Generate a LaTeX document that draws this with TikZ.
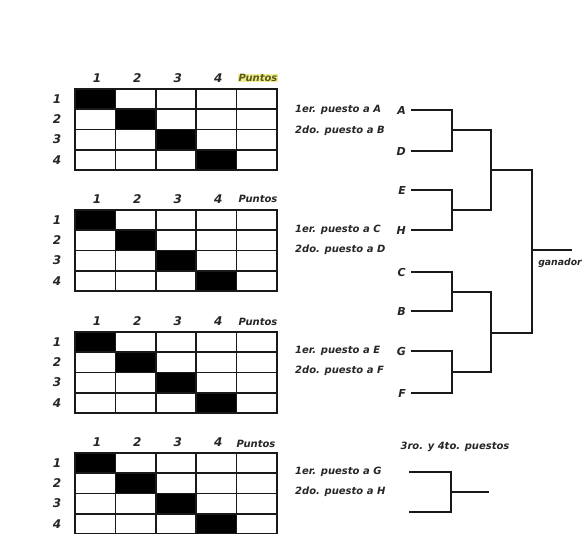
\documentclass[tikz,border=0pt]{standalone}
\usepackage{fontspec}
\setsansfont{DejaVu Sans}
\begin{document}
\begin{tikzpicture}[x=1pt,y=-1pt,
  lbl/.style={font=\sffamily\bfseries\itshape\fontsize{10}{12}\selectfont, inner sep=0pt, text=black!85},
  num/.style={font=\sffamily\bfseries\itshape\fontsize{12}{14}\selectfont, inner sep=0pt, text=black!85},
  gridline/.style={line width=1.6pt, black!90},
  brk/.style={line width=1.5pt, black!90, line join=miter}
]
\useasboundingbox (0,0) rectangle (586,533);
\fill[white] (0,0) rectangle (586,533);

% ---------- four tables ----------
\foreach \t [count=\g] in {89,210,332,453}{
  \foreach \i in {0,1,2,3}{
    \fill[black] ({75+40.4*\i},{\t+20.25*\i}) rectangle ++(40.4,20.25);
  }
  \foreach \k in {1,2,3,4}{
    \draw[gridline] ({75+40.4*\k},\t) -- ++(0,81);
    \draw[gridline] (75,{\t+20.25*\k}) -- ++(202,0);
  }
  \draw[gridline] (75,\t) rectangle ++(202,81);
  \foreach \k in {1,2,3,4}{
    \node[num] (h\g\k) at ({75+40.4*(\k-1)+22},{\t-11}) {\k};
    \node[num] (r\g\k) at (57,{\t+10+20.25*(\k-1)}) {\k};
  }
}
\node[lbl, fill={rgb,255:red,238;green,238;blue,150}, text={rgb,255:red,90;green,90;blue,20}, inner sep=0.6pt] (p1) at (258,78) {Puntos};
\node[lbl] (p2) at (258,199) {Puntos};
\node[lbl] (p3) at (258,322) {Puntos};
\node[lbl] (p4) at (256,444) {Puntos};

% ---------- placement notes ----------
\node[lbl, anchor=west] (n1a) at (295,110) {1er. puesto a A};
\node[lbl, anchor=west] (n1b) at (295,131) {2do. puesto a B};
\node[lbl, anchor=west] (n2a) at (295,230) {1er. puesto a C};
\node[lbl, anchor=west] (n2b) at (295,250) {2do. puesto a D};
\node[lbl, anchor=west] (n3a) at (295,351) {1er. puesto a E};
\node[lbl, anchor=west] (n3b) at (295,371) {2do. puesto a F};
\node[lbl, anchor=west] (n4a) at (295,472) {1er. puesto a G};
\node[lbl, anchor=west] (n4b) at (295,492) {2do. puesto a H};

% ---------- bracket ----------
\foreach \n/\y in {A/110,D/151,E/190,H/230,C/272,B/311,G/351,F/393}{
  \node[lbl, font=\sffamily\bfseries\itshape\fontsize{11}{12}\selectfont, anchor=east] (\n) at (406,\y) {\n};
}
\coordinate (jAD) at (452,130);
\coordinate (jEH) at (452,210);
\coordinate (jCB) at (452,292);
\coordinate (jGF) at (452,372);
\coordinate (q1) at (491,170);
\coordinate (q2) at (491,333);
\coordinate (fin) at (532,250);
\coordinate (win) at (572,250);

\foreach \n/\j in {A/jAD,D/jAD,E/jEH,H/jEH,C/jCB,B/jCB,G/jGF,F/jGF}{
  \draw[brk] ([xshift=5pt]\n.east) -| (\j);
}
\draw[brk] (jAD) -| (q1);
\draw[brk] (jEH) -| (q1);
\draw[brk] (jCB) -| (q2);
\draw[brk] (jGF) -| (q2);
\draw[brk] (q1) -| (fin);
\draw[brk] (q2) -| (fin);
\draw[brk] (fin) -- (win);
\node[lbl, font=\sffamily\bfseries\itshape\fontsize{9.3}{10}\selectfont] (gan) at (560,263) {ganador};

% ---------- 3rd / 4th place ----------
\node[lbl] (tt) at (455,447) {3ro. y 4to. puestos};
\coordinate (t1) at (409,472);
\coordinate (t2) at (409,512);
\coordinate (tj) at (451,492);
\coordinate (tw) at (489,492);
\draw[brk] (t1) -| (tj);
\draw[brk] (t2) -| (tj);
\draw[brk] (tj) -- (tw);
\end{tikzpicture}
\end{document}
